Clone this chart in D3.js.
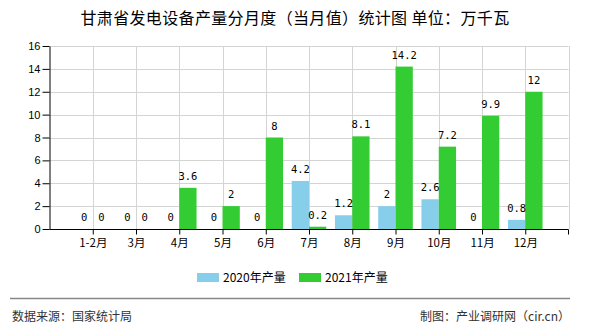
<!DOCTYPE html>
<html><head><meta charset="utf-8">
<script src="https://cdn.jsdelivr.net/npm/d3@7"></script>
<style>body{margin:0;background:#fff}svg{display:block}</style>
</head><body><svg id="c" width="590" height="330"></svg>
<script>
const categories = ["1-2月","3月","4月","5月","6月","7月","8月","9月","10月","11月","12月"];
const series = ["2020年产量","2021年产量"];
const values2020 = [0,0,0,0,0,4.2,1.2,2,2.6,0,0.8];
const values2021 = [0,0,3.6,2,8,0.2,8.1,14.2,7.2,9.9,12];
const yTicks = [0,2,4,6,8,10,12,14,16];
const colors = ["#87CEEB","#33CC33"];

const svg = d3.select("#c");
const L = 49.5, R = 568.5, T = 46, B = 229;
const step = (R - L) / 12;
const x = d3.scalePoint().domain(categories).range([L + step, R - step]);
const x1 = d3.scaleBand().domain(series).range([-step*0.4, step*0.4]);
const y = d3.scaleLinear().domain([0,16]).range([B, T]);
const cjk = "'Noto Sans CJK SC','Noto Sans',sans-serif";

// title
svg.append("text").attr("x",295).attr("y",24).attr("text-anchor","middle")
  .attr("font-family",cjk).attr("font-size",16).attr("letter-spacing",0.35).attr("fill","#000")
  .text("甘肃省发电设备产量分月度（当月值）统计图 单位：万千瓦");

// grid
const g = svg.append("g");
g.selectAll(".hg").data(yTicks.filter(d=>d>0)).join("line")
  .attr("x1",L).attr("x2",R).attr("y1",d=>Math.round(y(d))+0.5).attr("y2",d=>Math.round(y(d))+0.5)
  .attr("stroke","#d4d4d4");
const vpos = [R].concat(categories.map(c=>x(c)));
g.selectAll(".vg").data(vpos).join("line")
  .attr("x1",d=>Math.round(d)+0.5).attr("x2",d=>Math.round(d)+0.5).attr("y1",T).attr("y2",B)
  .attr("stroke","#d4d4d4");

// bars
const data = categories.map((c,i)=>({c, v:[values2020[i], values2021[i]]}));
const grp = svg.append("g").selectAll("g").data(data).join("g")
  .attr("transform",d=>`translate(${x(d.c)},0)`);
grp.selectAll("rect").data(d=>d.v.map((v,j)=>({v,s:series[j],j}))).join("rect")
  .attr("x",d=>x1(d.s)).attr("width",x1.bandwidth())
  .attr("y",d=>y(d.v)).attr("height",d=>B-y(d.v)).attr("fill",d=>colors[d.j]);
grp.selectAll("text").data(d=>d.v.map((v,j)=>({v,s:series[j],j}))).join("text")
  .attr("x",d=>x1(d.s)+x1.bandwidth()/2).attr("y",d=>y(d.v)-8)
  .attr("text-anchor","middle").attr("font-family","'DejaVu Sans Mono',monospace")
  .attr("font-size",10.5).attr("fill","#000").text(d=>d.v);

// y axis
const ya = svg.append("g").attr("transform",`translate(${L},0)`)
  .call(d3.axisLeft(y).tickValues(yTicks).tickSize(7).tickPadding(2).tickSizeOuter(0));
ya.selectAll("path,line").attr("stroke","#000");
ya.selectAll("text").attr("font-family","'Liberation Sans',Arial,sans-serif").attr("font-size",11).attr("fill","#000");

// x axis
const xa = svg.append("g").attr("transform",`translate(0,${B+0.5})`)
  .call(d3.axisBottom(x).tickSize(5).tickPadding(4).tickSizeOuter(0));
xa.select(".domain").attr("d",`M${L},0H${R}`).attr("stroke","#000");
xa.selectAll("line").attr("stroke","#000");
xa.selectAll("text").attr("font-family",cjk).attr("font-size",11.5).attr("fill","#000");
xa.append("line").attr("x1",R).attr("x2",R).attr("y1",0).attr("y2",5).attr("stroke","#000");

// legend
const lg = svg.append("g");
const lx = [197, 299];
series.forEach((s,i)=>{
  lg.append("rect").attr("x",lx[i]).attr("y",273).attr("width",22).attr("height",9).attr("fill",colors[i]);
  lg.append("text").attr("x",lx[i]+26).attr("y",282).attr("font-family",cjk).attr("font-size",12)
    .attr("fill","#000").text(s);
});

// footer
svg.append("line").attr("x1",10).attr("x2",570).attr("y1",298.5).attr("y2",298.5).attr("stroke","#888").attr("stroke-width",1.5);
svg.append("text").attr("x",12).attr("y",321).attr("font-family",cjk).attr("font-size",12).attr("fill","#333").text("数据来源：国家统计局");
svg.append("text").attr("x",570).attr("y",321).attr("text-anchor","end").attr("font-family",cjk).attr("font-size",12).attr("fill","#333").text("制图：产业调研网（cir.cn）");
</script></body></html>
